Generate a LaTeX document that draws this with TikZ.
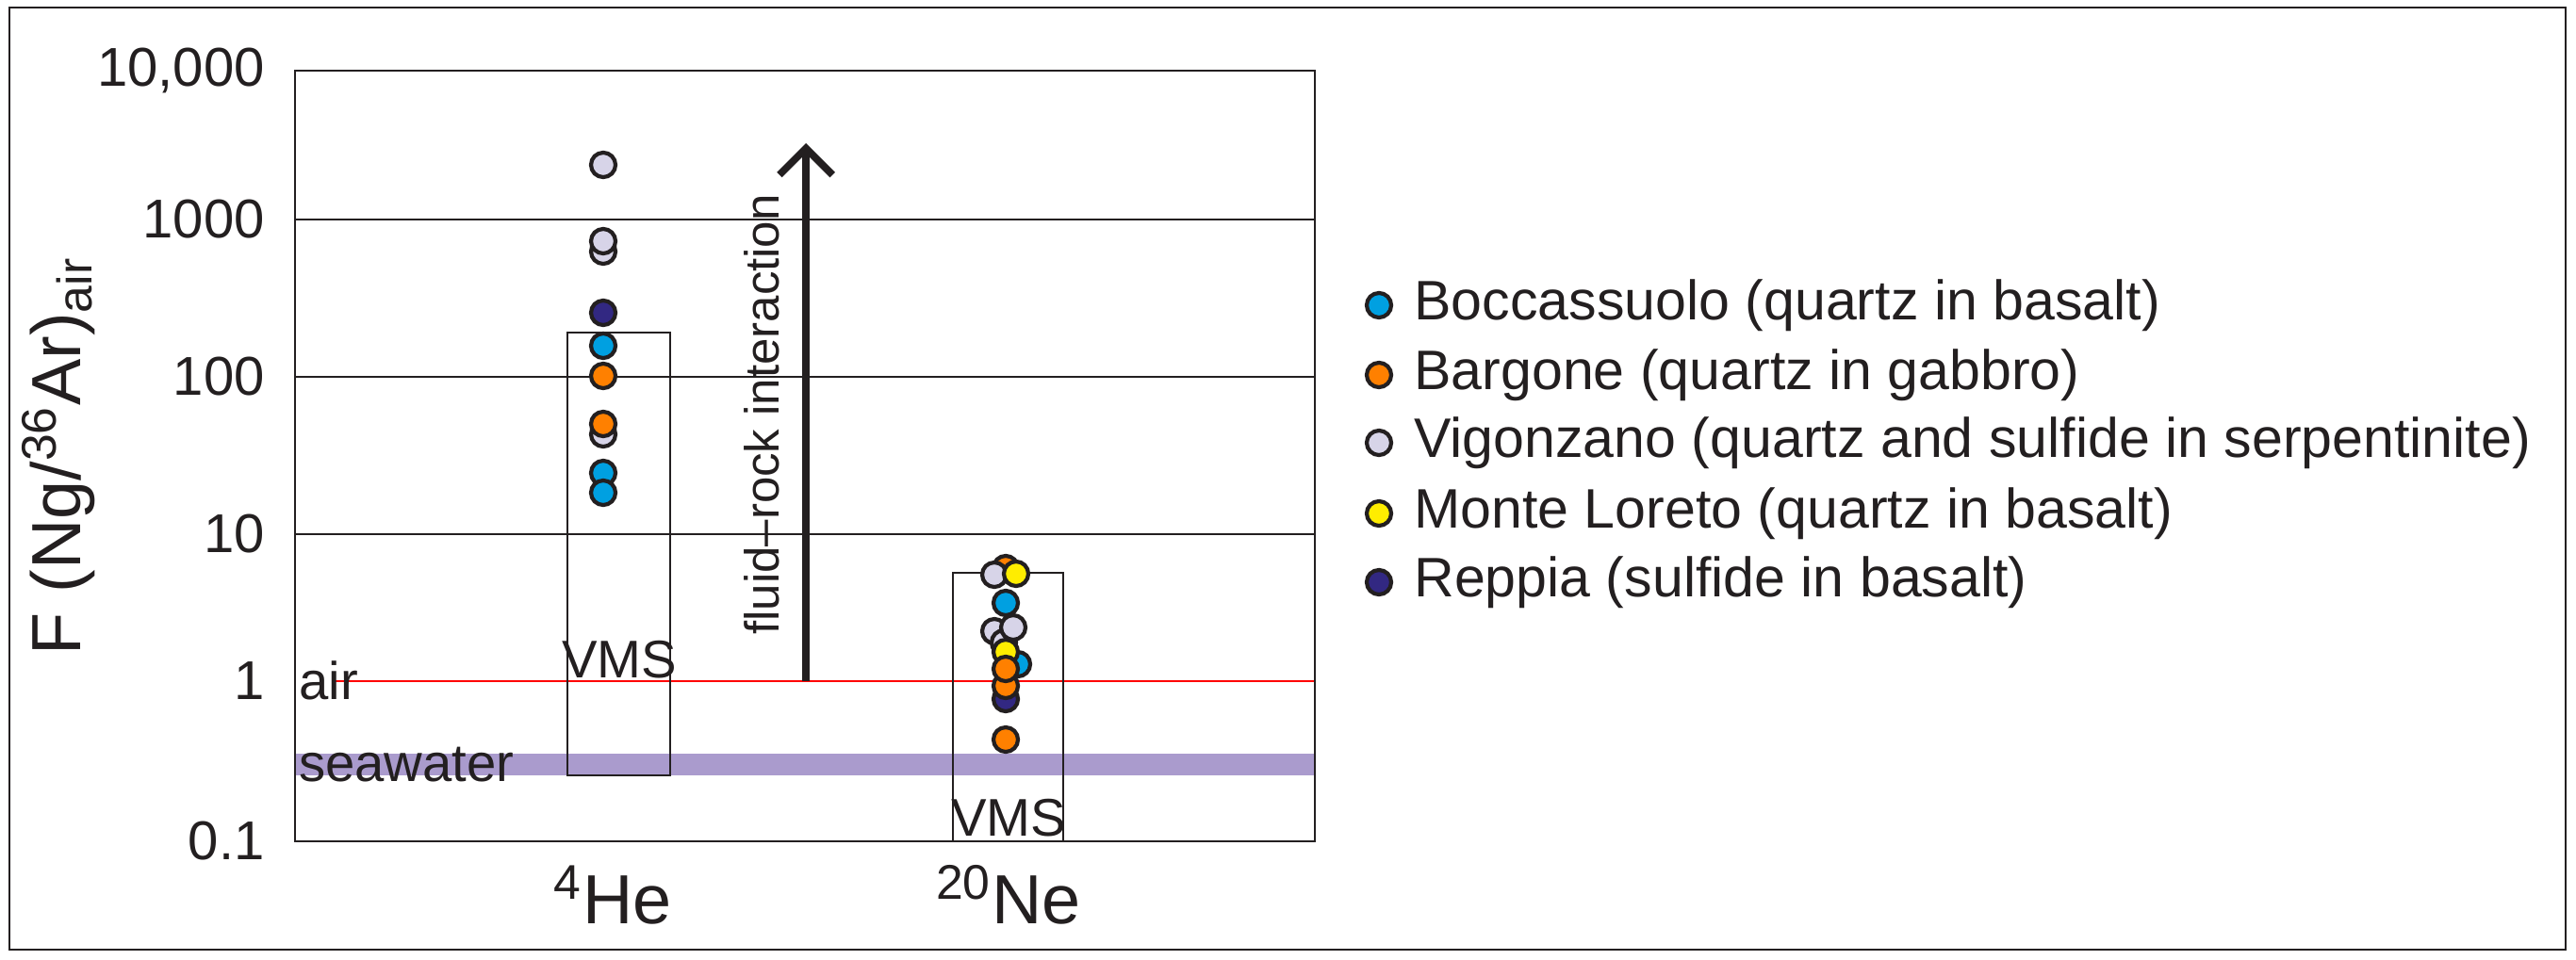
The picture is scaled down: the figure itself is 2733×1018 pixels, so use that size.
\documentclass[tikz,border=0pt]{standalone}
\usepackage{fontspec}
\setmainfont{Liberation Sans}
\usetikzlibrary{arrows.meta}
\definecolor{cblue}{RGB}{0,160,225}
\definecolor{corange}{RGB}{255,128,0}
\definecolor{cpale}{RGB}{215,212,232}
\definecolor{cyel}{RGB}{255,237,0}
\definecolor{cnavy}{RGB}{50,40,130}
\definecolor{csea}{RGB}{170,155,205}
\definecolor{cgrid}{RGB}{35,31,32}
\tikzset{pt/.style={circle,draw=cgrid,line width=1.2pt,minimum size=0.26cm,inner sep=0pt},
lab/.style={font=\fontsize{16}{18}\selectfont,text=cgrid},
tick/.style={font=\fontsize{16.5}{20}\selectfont,text=cgrid,anchor=east}}
\begin{document}
\begin{tikzpicture}[x=0.01cm,y=-0.01cm]
\useasboundingbox (0,0) rectangle (2733,1018);
\draw[cgrid,line width=0.8pt] (10,8) rectangle (2722,1008);
% seawater band
\fill[csea] (313,800) rectangle (1395,823);
% grid
\foreach \y in {233,400,567} \draw[cgrid,line width=0.8pt] (313,\y) -- (1395,\y);
\draw[red,line width=0.8pt] (355,723) -- (1395,723);
\draw[cgrid,line width=0.8pt] (313,75) rectangle (1395,893);
% boxes
\draw[cgrid,line width=0.8pt] (602,353) rectangle (711,823);
\draw[cgrid,line width=0.8pt] (1011,608) rectangle (1128,893);
% ticks
\node[tick] (t1) at (293,75) {10,000};
\node[tick] (t2) at (293,233) {1000};
\node[tick] (t3) at (293,400) {100};
\node[tick] (t4) at (293,567) {10};
\node[tick] (t5) at (293,723) {1};
\node[tick] (t6) at (293,893) {0.1};
\node[font=\fontsize{21}{24}\selectfont,text=cgrid,rotate=90] (yl) at (62,484) {F (Ng/\textsuperscript{36}Ar)\textsubscript{air}};
\node[font=\fontsize{21}{24}\selectfont,text=cgrid] (x1) at (650,950) {\textsuperscript{4}He};
\node[font=\fontsize{21}{24}\selectfont,text=cgrid] (x2) at (1070,950) {\textsuperscript{20}Ne};
\node[lab,anchor=west,inner sep=1pt] (air) at (313,722) {air};
\node[lab,anchor=west,inner sep=1pt] (sea) at (313,812) {seawater};
\node[lab] (v1) at (657,700) {VMS};
\node[lab] (v2) at (1070,868) {VMS};
% arrow
\coordinate (a0) at (855,723);
\coordinate (a1) at (855,152);
\draw[cgrid,line width=2.2pt,-{Straight Barb[length=8pt,width=16pt,line width=2.2pt]}] (a0) -- (a1);
\node[font=\fontsize{14.5}{18}\selectfont,text=cgrid,rotate=90] (fr) at (808,440) {fluid–rock interaction};
% He points
\node[pt,fill=cpale] (h1) at (640,175) {};
\node[pt,fill=cpale] (h3) at (640,267) {};
\node[pt,fill=cpale] (h2) at (640,256) {};
\node[pt,fill=cnavy] (h4) at (640,332) {};
\node[pt,fill=cblue] (h5) at (640,367) {};
\node[pt,fill=corange] (h6) at (640,399) {};
\node[pt,fill=cpale] (h8) at (640,461) {};
\node[pt,fill=corange] (h7) at (640,450) {};
\node[pt,fill=cblue] (h9) at (640,502) {};
\node[pt,fill=cblue] (h10) at (640,523) {};
% Ne points
\node[pt,fill=corange] (n0) at (1067,603) {};
\node[pt,fill=cpale] (n1) at (1055,610) {};
\node[pt,fill=cyel] (n2) at (1078,609) {};
\node[pt,fill=cblue] (n3) at (1067,640) {};
\node[pt,fill=cpale] (n4) at (1055,670) {};
\node[pt,fill=cpale] (n6) at (1065,682) {};
\node[pt,fill=cpale] (n5) at (1075,666) {};
\node[pt,fill=cblue] (n7) at (1080,705) {};
\node[pt,fill=cyel] (n8) at (1067,692) {};
\node[pt,fill=cnavy] (n11) at (1067,742) {};
\node[pt,fill=corange] (n10) at (1067,728) {};
\node[pt,fill=corange] (n9) at (1067,710) {};
\node[pt,fill=corange] (n12) at (1067,785) {};
% legend
\foreach \c/\t/\y [count=\i] in {cblue/Boccassuolo (quartz in basalt)/324,corange/Bargone (quartz in gabbro)/398,cpale/Vigonzano (quartz and sulfide in serpentinite)/470,cyel/Monte Loreto (quartz in basalt)/545,cnavy/Reppia (sulfide in basalt)/618}{
\node[pt,fill=\c] (l\i) at (1463,\y) {};
\node[font=\fontsize{16.8}{20}\selectfont,text=cgrid,anchor=west] (lt\i) at (1488,\y) {\t};}
\end{tikzpicture}
\end{document}
